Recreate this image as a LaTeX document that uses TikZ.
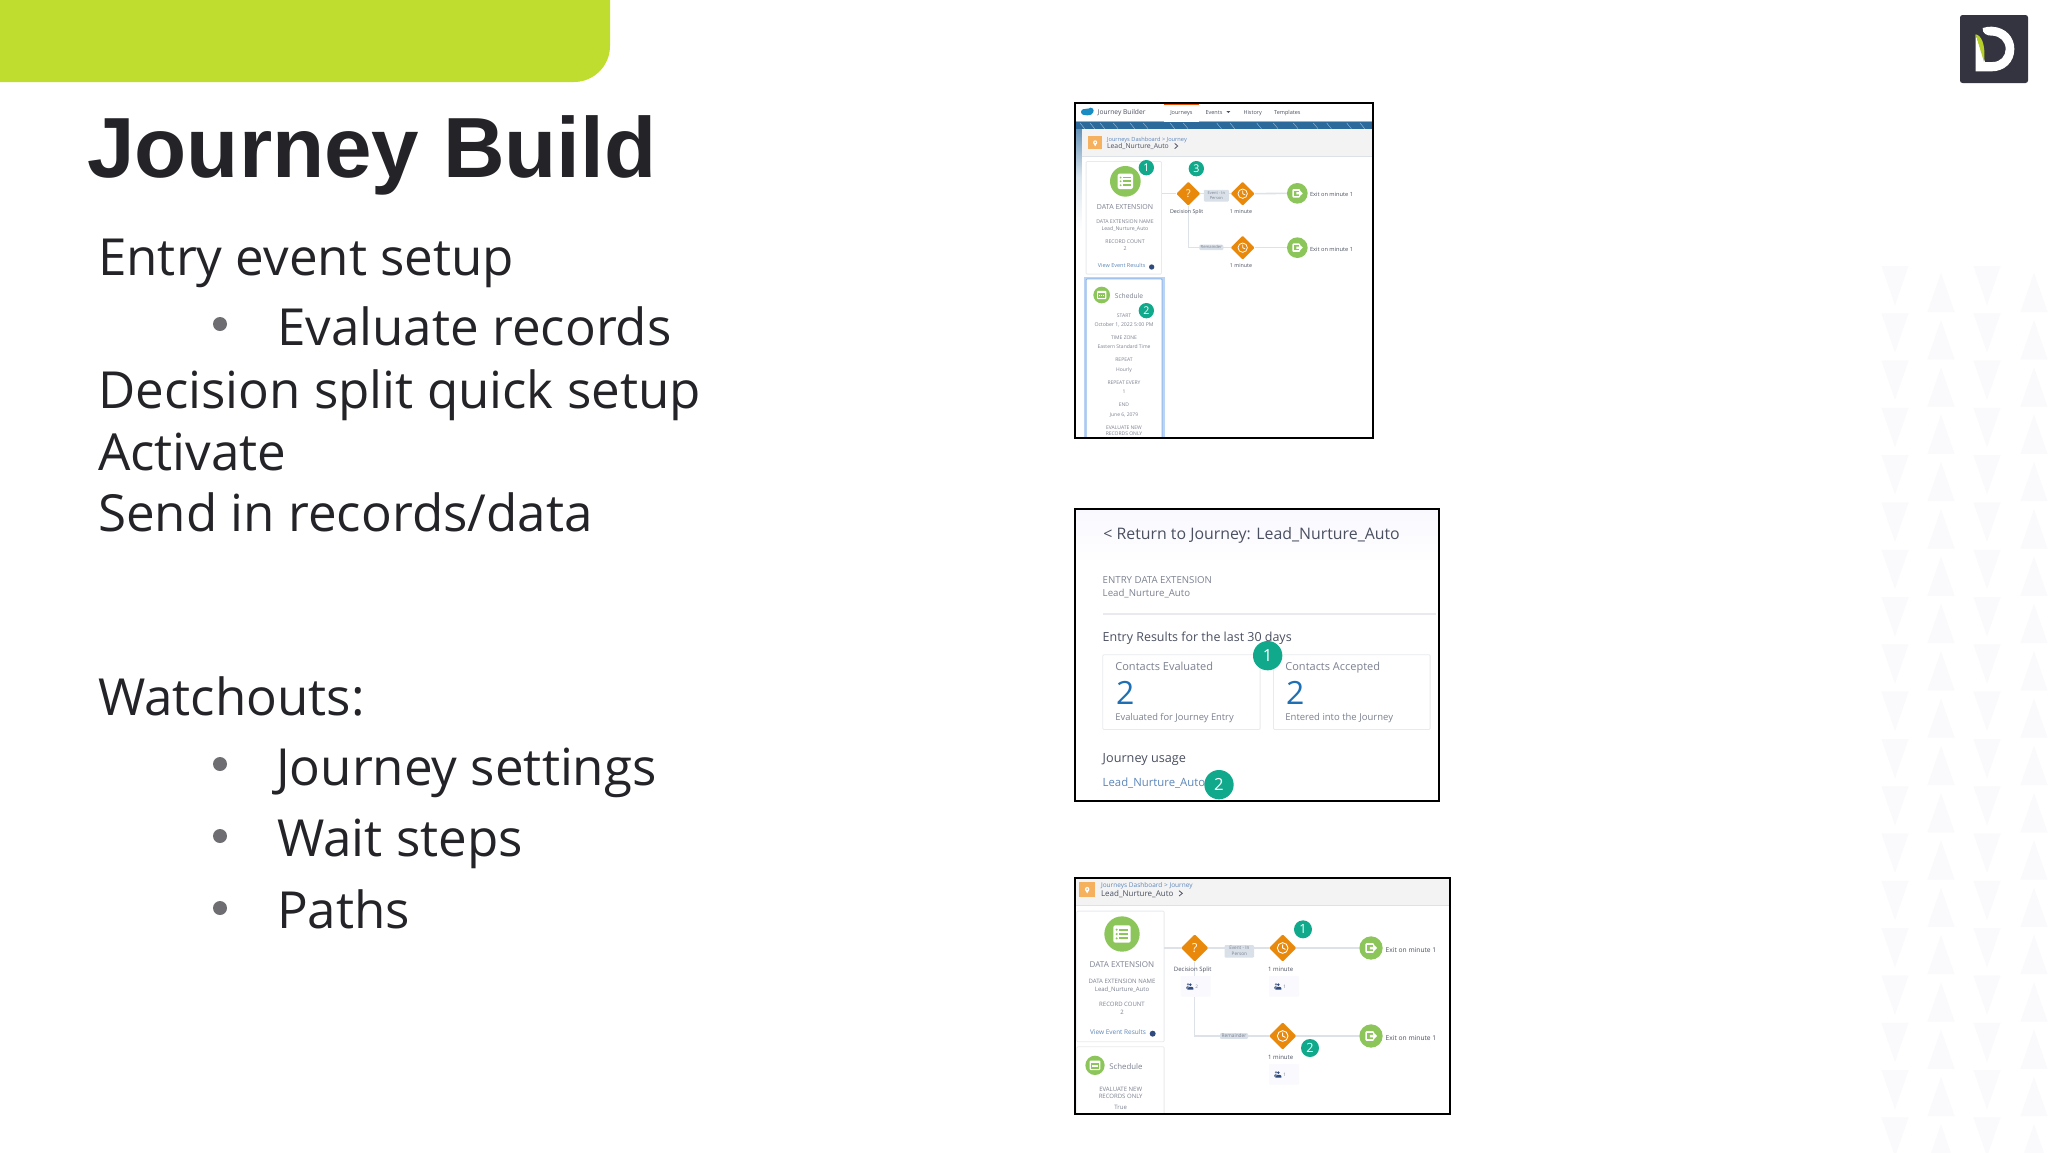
\documentclass[tikz,border=0pt]{standalone}
\usepackage{fontspec}
\setmainfont{Open Sans}
\newfontfamily\titlefont{Liberation Sans}
\usetikzlibrary{shapes.geometric,calc}
\definecolor{limebar}{HTML}{BFDD2F}
\definecolor{inkdark}{HTML}{232328}
\definecolor{bulletgrey}{HTML}{6E6D72}
\definecolor{logodark}{HTML}{33343F}
\definecolor{tri}{HTML}{FAF9FB}
\definecolor{teal}{HTML}{10A98B}
\definecolor{sforange}{HTML}{E8890C}
\definecolor{sfgreen}{HTML}{8CC65A}
\definecolor{pinorange}{HTML}{F6B15F}
\definecolor{linegrey}{HTML}{DDE2E8}
\definecolor{labelbox}{HTML}{D9E0E8}
\definecolor{sfgrey}{HTML}{7C8190}
\definecolor{sfdark}{HTML}{4A5060}
\definecolor{sfblue}{HTML}{5D86B8}
\definecolor{numblue}{HTML}{1F6FB5}
\definecolor{headgrey}{HTML}{F3F3F4}
\definecolor{cardline}{HTML}{E8EAEE}
\definecolor{glow}{HTML}{8FB8EA}
\definecolor{bandblue}{HTML}{2C6A9C}
\definecolor{navy}{HTML}{2F4A7C}
\newcounter{lblc}
\newcommand{\lbl}[6][base]{\stepcounter{lblc}\node[anchor=#1,inner sep=0pt,text=#5,font=\fontsize{#4}{#4}\selectfont] (L\arabic{lblc}) at (#2,{#3+0.36*#4}) {#6};}
\newcommand{\bdg}[6]{\node[circle,fill=teal,inner sep=0pt,minimum size=#4pt,text=white,font=\fontsize{#5}{#5}\selectfont] (#1) at (#2,#3) {#6};}
% white clock glyph in a diamond
\newcommand{\clockicon}[2]{\draw[white,line width=#2*0.055pt] (#1.center) circle[radius=#2];\draw[white,line width=#2*0.055pt,line cap=round] ($(#1.center)+(0,-#2*0.6)$) -- (#1.center) -- ($(#1.center)+(#2*0.5,#2*0.25)$);}
% white exit glyph in a circle
\newcommand{\exiticon}[2]{\fill[white,rounded corners=1pt] ($(#1.center)+(-#2,-#2*0.85)$) rectangle ($(#1.center)+(#2*0.55,#2*0.85)$);\fill[sfgreen] ($(#1.center)+(-#2*0.75,-#2*0.55)$) rectangle ($(#1.center)+(#2*0.3,#2*0.55)$);\fill[white] ($(#1.center)+(-#2*0.2,-#2*0.22)$) -- ($(#1.center)+(#2*0.45,-#2*0.22)$) -- ($(#1.center)+(#2*0.45,-#2*0.6)$) -- ($(#1.center)+(#2*1.1,0)$) -- ($(#1.center)+(#2*0.45,#2*0.6)$) -- ($(#1.center)+(#2*0.45,#2*0.22)$) -- ($(#1.center)+(-#2*0.2,#2*0.22)$) -- cycle;}
% list glyph
\newcommand{\listicon}[2]{\fill[white,rounded corners=2pt] ($(#1.center)+(-#2,-#2)$) rectangle ($(#1.center)+(#2,#2)$);\foreach \q in {-0.5,0,0.5}{\fill[sfgreen] ($(#1.center)+(-#2*0.62,#2*\q)$) circle[radius=#2*0.13];\fill[sfgreen] ($(#1.center)+(-#2*0.3,#2*\q-#2*0.11)$) rectangle ($(#1.center)+(#2*0.7,#2*\q+#2*0.11)$);}}
% calendar glyph
\newcommand{\calicon}[2]{\fill[white,rounded corners=1pt] ($(#1.center)+(-#2,-#2*0.9)$) rectangle ($(#1.center)+(#2,#2*0.9)$);\fill[sfgreen] ($(#1.center)+(-#2*0.75,-#2*0.35)$) rectangle ($(#1.center)+(#2*0.75,#2*0.7)$);\foreach \p in {-0.4,0,0.4}{\fill[white] ($(#1.center)+(#2*\p-#2*0.13,#2*0.02)$) rectangle ($(#1.center)+(#2*\p+#2*0.13,#2*0.32)$);}}
% pin glyph
\newcommand{\pinicon}[2]{\fill[white] ($(#1.center)+(0,-#2*0.1)$) circle[radius=#2*0.55];\fill[white] ($(#1.center)+(-#2*0.5,#2*0.1)$) -- ($(#1.center)+(#2*0.5,#2*0.1)$) -- ($(#1.center)+(0,#2)$) -- cycle;\fill[pinorange] ($(#1.center)+(0,-#2*0.1)$) circle[radius=#2*0.22];}
% people glyph
\newcommand{\peopleicon}[2]{\fill[navy] (#1+3,#2-6) circle[radius=4.2];\fill[navy] (#1-6,#2+9) -- (#1-6,#2+4) .. controls (#1-5,#2-1) and (#1+11,#2-1) .. (#1+12,#2+4) -- (#1+12,#2+9) -- cycle;\fill[navy!70] (#1-4,#2-7) circle[radius=3.5];\fill[navy!70] (#1-10,#2+6) -- (#1-10,#2+2) .. controls (#1-9,#2-3) and (#1-2,#2-3) .. (#1,#2+1) -- (#1-5,#2+6) -- cycle;}
\tikzset{
  bodytext/.style={anchor=base west,inner sep=0pt,text=inkdark,font=\fontsize{51.1}{51.1}\selectfont},
  dot/.style={circle,fill=bulletgrey,inner sep=0pt,minimum size=14pt},
  frameline/.style={draw=black,line width=1.9pt,fill=none},
  conn/.style={draw=linegrey,line width=1.6pt},
  zoomed/.style={scale=0.33333,every node/.append style={transform shape}},
  sfdiamond/.style={diamond,aspect=1,fill=sforange,inner sep=0pt,rounded corners=1pt},
  sfcircle/.style={circle,fill=sfgreen,inner sep=0pt},
  panelbox/.style={rectangle,fill=white,draw=cardline,line width=0.8pt,rounded corners=1pt,inner sep=0pt,anchor=north west},
  lbox/.style={rectangle,fill=labelbox,inner sep=0pt,rounded corners=1pt},
  cbox/.style={rectangle,fill=headgrey!80!blue!8,inner sep=0pt,anchor=north west,rounded corners=1pt},
}
\begin{document}
\begin{tikzpicture}[x=1pt,y=-1pt]
\path[use as bounding box,fill=white] (0,0) rectangle (2048,1152);
\clip (0,0) rectangle (2048,1152);
% background triangles
\foreach \r in {0,...,18}{
  \pgfmathsetmacro{\ya}{266+47.3*\r}
  \pgfmathsetmacro{\yb}{\ya+39}
  \pgfmathsetmacro{\yc}{312+47.3*\r}
  \pgfmathsetmacro{\yd}{\yc-39}
  \foreach \xx in {1895,1987}{\fill[tri] (\xx-13.5,\ya) -- (\xx+13.5,\ya) -- (\xx,\yb) -- cycle;}
  \foreach \xx in {1941,2034}{\fill[tri] (\xx-13.5,\yc) -- (\xx+13.5,\yc) -- (\xx,\yd) -- cycle;}
}
% lime tab
\fill[limebar] (0,0) -- (610,0) [rounded corners=36pt] -- (610,82) [sharp corners] -- (0,82) -- cycle;
% logo
\node[rectangle,fill=logodark,rounded corners=2.5pt,inner sep=0pt,minimum width=68pt,minimum height=68pt] (logo) at (1994,49) {};
\begin{scope}[shift={(1860,0)},scale=0.33333]
\fill[white] (368,84) .. controls (378,81) and (386,80) .. (395,80) .. controls (438,82) and (463,112) .. (463,147) .. controls (463,188) and (432,214) .. (395,214) -- (347,214) -- (347,104) -- (375,186) -- (398,186) .. controls (422,186) and (437,168) .. (437,147) .. controls (437,125) and (420,108) .. (398,107) .. controls (380,108) and (366,100) .. (368,84) -- cycle;
\fill[limebar!85!olive] (347,103) .. controls (362,105) and (378,130) .. (372,186) -- cycle;
\end{scope}
% title and body
\node[anchor=base west,inner sep=0pt,text=inkdark,font=\titlefont\bfseries\fontsize{85.4}{85.4}\selectfont] (title) at (87,177) {Journey Build};
\node[bodytext] (b1) at (98,275) {Entry event setup};
\node[dot] (d1) at (220,324) {};
\node[bodytext] (b2) at (277,345) {Evaluate records};
\node[bodytext] (b3) at (98,408) {Decision split quick setup};
\node[bodytext] (b4) at (98,470) {Activate};
\node[bodytext] (b5) at (98,531) {Send in records/data};
\node[bodytext] (b6) at (98,715) {Watchouts:};
\node[dot] (d2) at (220,764) {};
\node[bodytext] (b7) at (276,785) {Journey settings};
\node[dot] (d3) at (220,836) {};
\node[bodytext] (b8) at (277,856) {Wait steps};
\node[dot] (d4) at (220,908) {};
\node[bodytext] (b9) at (277,928) {Paths};

% ===== screenshot 1 =====
\begin{scope}[shift={(1060,90)},zoomed]
\fill[white] (46,38) rectangle (938,1043);
\begin{scope}
\clip (46,38) rectangle (938,1043);
\shade[top color=bandblue!80,bottom color=white,middle color=bandblue!18] (46,97) rectangle (65,420);
\fill[bandblue] (46,97) rectangle (938,118);
\foreach \xx in {60,90,120,160,210,250,330,370,470,510,590,640,700,760,800,860,900}{\draw[white!55!bandblue,line width=0.4pt] (\xx,99) -- (\xx+14,116);}
\fill[sforange!70!yellow] (46,93) rectangle (938,97);
\fill[white] (312,44) rectangle (418,97);
\fill[sforange!60!red] (312,43) rectangle (418,45);
\fill[headgrey] (65,118) rectangle (938,200);
\draw[linegrey,line width=0.6pt] (65,200) -- (938,200);
\fill[white] (65,200) rectangle (938,1043);
% salesforce cloud
\fill[numblue!80!cyan] (82,66) ellipse[x radius=18,y radius=10];
\fill[numblue!80!cyan] (72,66) circle[radius=9];\fill[numblue!80!cyan] (92,62) circle[radius=9];
\lbl[base west]{113}{66}{20}{sfdark}{Journey Builder}
\lbl{364}{67}{16.5}{sfdark}{Journeys}
\lbl{462}{67}{16.5}{sfdark}{Events}
\fill[sfdark] (499,63) -- (511,63) -- (505,69) -- cycle;
\lbl{578}{67}{16.5}{sfdark}{History}
\lbl{682}{67}{16.5}{sfdark}{Templates}
\node[rectangle,fill=pinorange,inner sep=0pt,minimum width=41pt,minimum height=40pt] (pin1) at (105.5,158) {};
\pinicon{pin1}{11}
\lbl[base west]{141}{147}{17}{sfblue}{Journeys Dashboard > Journey}
\lbl[base west]{141}{167}{20.5}{sfdark}{Lead\_Nurture\_Auto}
\draw[sfdark,line width=0.8pt] (344,160) -- (353,168) -- (344,176);
% panels
\node[panelbox,minimum width=226pt,minimum height=338pt] (pa1) at (78,214) {};
\fill[glow!60] (72,560) rectangle (314,1060);
\node[panelbox,draw=glow,line width=1pt,minimum width=228pt,minimum height=490pt] (pa2) at (78,566) {};
\node[sfcircle,minimum size=92pt] (g1) at (196,274) {};
\listicon{g1}{23}
\lbl{195}{352}{21}{sfgrey}{DATA EXTENSION}
\lbl{195}{396}{15.5}{sfgrey}{DATA EXTENSION NAME}
\lbl{195}{417}{15.5}{sfgrey}{Lead\_Nurture\_Auto}
\lbl{195}{456}{15.5}{sfgrey}{RECORD COUNT}
\lbl{195}{477}{15.5}{sfgrey}{2}
\lbl{185}{527}{16.5}{sfblue}{View Event Results}
\node[circle,fill=navy,inner sep=0pt,minimum size=16pt] (info1) at (275,531) {};
\node[sfcircle,minimum size=50pt] (g2) at (125,615) {};
\calicon{g2}{14}
\lbl{207}{618}{20}{sfgrey}{Schedule}
\lbl{192}{676}{15}{sfgrey}{START}
\lbl{192}{704}{15.5}{sfgrey}{October 1, 2022 5:00 PM}
\lbl{192}{744}{15}{sfgrey}{TIME ZONE}
\lbl{192}{771}{15}{sfgrey}{Eastern Standard Time}
\lbl{192}{810}{15}{sfgrey}{REPEAT}
\lbl{192}{838}{15}{sfgrey}{Hourly}
\lbl{192}{877}{15}{sfgrey}{REPEAT EVERY}
\lbl{192}{905}{15}{sfgrey}{1}
\lbl{192}{945}{15}{sfgrey}{END}
\lbl{192}{973}{15}{sfgrey}{June 6, 2079}
\lbl{192}{1012}{15}{sfgrey}{EVALUATE NEW}
\lbl{192}{1031}{15}{sfgrey}{RECORDS ONLY}
% flow
\node[sfdiamond,minimum size=72pt,text=white,font=\fontsize{32}{32}\selectfont] (dec1) at (385,311) {?};
\node[sfdiamond,minimum size=72pt] (ck1) at (548,311) {};
\node[sfdiamond,minimum size=72pt] (ck2) at (548,473) {};
\node[sfcircle,minimum size=62pt] (e1) at (712,310) {};
\node[sfcircle,minimum size=62pt] (e2) at (712,473) {};
\draw[conn] (pa1.east |- dec1) -- (dec1.west);
\draw[conn] (dec1.east) -- (ck1.west);
\draw[conn] (ck1.east) -- (e1.west);
\draw[conn] (dec1.south) |- (ck2.west);
\draw[conn] (ck2.east) -- (e2.west);
\node[lbox,minimum width=75pt,minimum height=35pt,align=center,text=sfgrey,font=\fontsize{12}{16}\selectfont] (ev1) at (469,317) {Event - In\\Person};
\node[lbox,minimum width=72pt,minimum height=16pt,text=sfgrey,font=\fontsize{12.5}{12.5}\selectfont] (rm1) at (454,472) {Remainder};
\clockicon{ck1}{14}
\clockicon{ck2}{14}
\exiticon{e1}{15}
\exiticon{e2}{15}
\lbl{380}{364}{16}{sfdark}{Decision Split}
\lbl{543}{364}{16}{sfdark}{1 minute}
\lbl{543}{527}{16}{sfdark}{1 minute}
\lbl[base west]{750}{314}{17}{sfdark}{Exit on minute 1}
\lbl[base west]{750}{477}{17}{sfdark}{Exit on minute 1}
\bdg{s1a}{259}{233}{46}{32}{1}
\bdg{s1b}{409}{236}{46}{32}{3}
\bdg{s1c}{259}{662}{46}{32}{2}
\end{scope}
\draw[frameline] (46,38) rectangle (938,1043);
\end{scope}

% ===== screenshot 2 =====
\begin{scope}[shift={(1060,500)},zoomed]
\fill[white] (46,28) rectangle (1137,902);
\shade[top color=headgrey!70!blue!8,bottom color=white] (46,30) rectangle (1137,190);
\lbl[base west]{130}{102}{47.6}{sfdark}{< Return to Journey: Lead\_Nurture\_Auto}
\lbl[base west]{128}{240}{29}{sfgrey}{ENTRY DATA EXTENSION}
\lbl[base west]{128}{278}{29}{sfgrey}{Lead\_Nurture\_Auto}
\draw[cardline,line width=1.5pt] (128,342) -- (1128,342);
\lbl[base west]{128}{410}{37.4}{sfdark}{Entry Results for the last 30 days}
\node[panelbox,minimum width=472pt,minimum height=224pt] (c1) at (128,464) {};
\node[panelbox,minimum width=470pt,minimum height=224pt] (c2) at (640,464) {};
\lbl[base west]{166}{501}{33}{sfgrey}{Contacts Evaluated}
\lbl[base west]{168}{580}{96}{numblue}{2}
\lbl[base west]{166}{652}{28}{sfgrey}{Evaluated for Journey Entry}
\lbl[base west]{676}{501}{33}{sfgrey}{Contacts Accepted}
\lbl[base west]{678}{580}{96}{numblue}{2}
\lbl[base west]{676}{652}{28.5}{sfgrey}{Entered into the Journey}
\lbl[base west]{128}{773}{38}{sfdark}{Journey usage}
\lbl[base west]{128}{847}{34}{sfblue}{Lead\_Nurture\_Auto}
\bdg{s2a}{623}{467}{88}{50}{1}
\bdg{s2b}{477}{854}{88}{50}{2}
\draw[frameline] (46,28) rectangle (1137,902);
\end{scope}

% ===== screenshot 3 =====
\begin{scope}[shift={(1060,865)},zoomed]
\fill[white] (46,38) rectangle (1170,747);
\begin{scope}
\clip (46,38) rectangle (1170,747);
\fill[headgrey] (46,38) rectangle (1170,122);
\draw[linegrey,line width=0.6pt] (46,122) -- (1170,122);
\node[rectangle,fill=pinorange,inner sep=0pt,minimum width=47pt,minimum height=47pt] (pin3) at (81.5,73.5) {};
\pinicon{pin3}{12}
\lbl[base west]{123}{60}{19.5}{sfblue}{Journeys Dashboard > Journey}
\lbl[base west]{123}{85}{24}{sfdark}{Lead\_Nurture\_Auto}
\draw[sfdark,line width=0.8pt] (357,77) -- (367,85) -- (357,93);
\node[panelbox,minimum width=262pt,minimum height=392pt] (pb1) at (50,138) {};
\node[panelbox,minimum width=262pt,minimum height=230pt] (pb2) at (50,545) {};
\node[sfcircle,minimum size=106pt] (h1) at (186,207) {};
\listicon{h1}{26}
\lbl{186}{298}{24.2}{sfgrey}{DATA EXTENSION}
\lbl{186}{349}{18}{sfgrey}{DATA EXTENSION NAME}
\lbl{186}{373}{18}{sfgrey}{Lead\_Nurture\_Auto}
\lbl{186}{418}{18}{sfgrey}{RECORD COUNT}
\lbl{186}{441}{18}{sfgrey}{2}
\lbl{174}{500}{19.4}{sfblue}{View Event Results}
\node[circle,fill=navy,inner sep=0pt,minimum size=18pt] (info3) at (278,506) {};
\node[sfcircle,minimum size=58pt] (h2) at (105,601) {};
\calicon{h2}{16}
\lbl{198}{605}{23.5}{sfgrey}{Schedule}
\lbl{182}{672}{18}{sfgrey}{EVALUATE NEW}
\lbl{182}{695}{18}{sfgrey}{RECORDS ONLY}
\lbl{182}{727}{18}{sfgrey}{True}
\node[sfdiamond,minimum size=82pt,text=white,font=\fontsize{37}{37}\selectfont] (dec3) at (404,249) {?};
\node[sfdiamond,minimum size=82pt] (ck3) at (668,249) {};
\node[sfdiamond,minimum size=82pt] (ck4) at (668,513) {};
\node[sfcircle,minimum size=70pt] (f1) at (933,249) {};
\node[sfcircle,minimum size=70pt] (f2) at (933,513) {};
\node[cbox,minimum width=90pt,minimum height=62pt] (n1) at (362,333) {};
\node[cbox,minimum width=90pt,minimum height=62pt] (n2) at (627,333) {};
\node[cbox,minimum width=90pt,minimum height=62pt] (n3) at (627,597) {};
\draw[conn] (pb1.east |- dec3) -- (dec3.west);
\draw[conn] (dec3.east) -- (ck3.west);
\draw[conn] (ck3.east) -- (f1.west);
\draw[conn] (dec3.south) -- (n1.north -| dec3.south);
\draw[conn] (n1.south -| dec3.south) |- (ck4.west);
\draw[conn] (ck4.east) -- (f2.west);
\node[lbox,minimum width=88pt,minimum height=38pt,align=center,text=sfgrey,font=\fontsize{14}{18}\selectfont] (ev3) at (538,259) {Event - In\\Person};
\node[lbox,minimum width=84pt,minimum height=17pt,text=sfgrey,font=\fontsize{14.5}{14.5}\selectfont] (rm3) at (522,513) {Remainder};
\clockicon{ck3}{16}
\clockicon{ck4}{16}
\exiticon{f1}{17}
\exiticon{f2}{17}
\lbl{398}{312}{18}{sfdark}{Decision Split}
\lbl{662}{312}{18}{sfdark}{1 minute}
\lbl{662}{576}{18}{sfdark}{1 minute}
\lbl[base west]{977}{254}{20}{sfdark}{Exit on minute 1}
\lbl[base west]{977}{518}{20}{sfdark}{Exit on minute 1}
\peopleicon{388}{365}
\lbl{410}{366}{14}{sfgrey}{2}
\peopleicon{652}{365}
\lbl{674}{366}{14}{sfgrey}{1}
\peopleicon{652}{629}
\lbl{674}{630}{14}{sfgrey}{1}
\bdg{s3a}{729}{193}{54}{38}{1}
\bdg{s3b}{750}{549}{54}{38}{2}
\end{scope}
\draw[frameline] (46,38) rectangle (1170,747);
\end{scope}
\end{tikzpicture}
\end{document}
